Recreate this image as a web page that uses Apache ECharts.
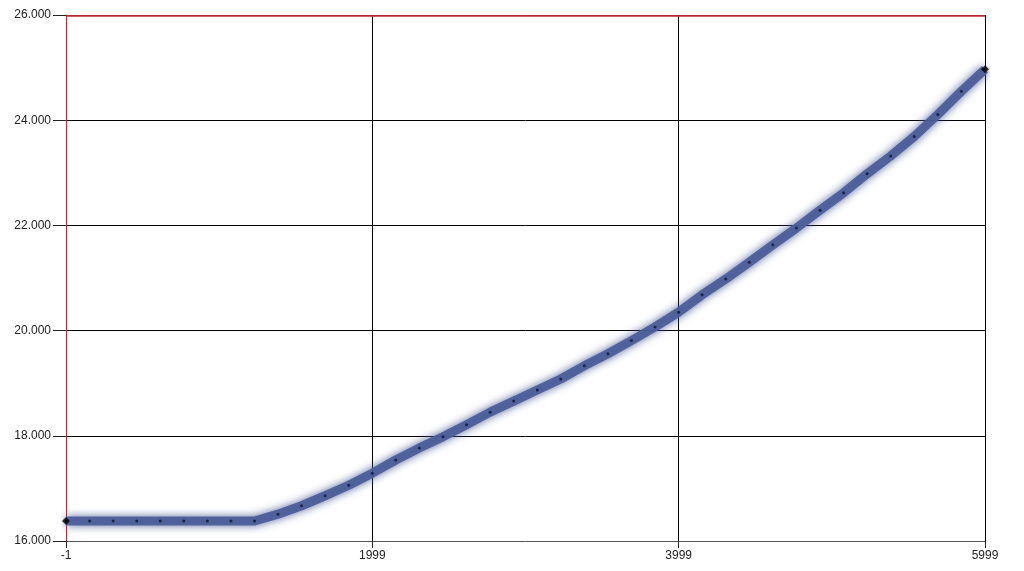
<!DOCTYPE html>
<html>
<head>
<meta charset="utf-8">
<script src="https://cdn.jsdelivr.net/npm/echarts@6/dist/echarts.min.js"></script>
<style>
html,body{margin:0;padding:0;background:#fff;}
#chart{width:1024px;height:571px;}
</style>
</head>
<body>
<div id="chart"></div>
<script>
const xValues = [-1, 153, 307, 461, 614, 768, 922, 1076, 1230, 1383, 1537, 1691, 1845, 1999,
  2152, 2306, 2460, 2614, 2768, 2922, 3076, 3229, 3383, 3537, 3691, 3845, 3999,
  4152, 4306, 4460, 4614, 4768, 4922, 5076, 5229, 5383, 5537, 5691, 5845, 5999];
const yValues = [16.38, 16.38, 16.38, 16.38, 16.38, 16.38, 16.38, 16.38, 16.38, 16.51,
  16.67, 16.86, 17.06, 17.29, 17.54, 17.77, 17.98, 18.21, 18.45, 18.66,
  18.87, 19.08, 19.33, 19.56, 19.81, 20.07, 20.35, 20.68, 20.98, 21.30,
  21.63, 21.95, 22.29, 22.62, 22.98, 23.32, 23.69, 24.11, 24.55, 24.97];
const xTickLabels = ['-1', '1999', '3999', '5999'];
const yTickLabels = ['16.000', '18.000', '20.000', '22.000', '24.000', '26.000'];
const yTop = 26;

const xOffset = 1; // shift so that axis ticks fall on multiples of the interval
const pts = xValues.map((x, i) => [x + xOffset, yValues[i]]);
const ends = [pts[0], pts[pts.length - 1]];

const font = 'Liberation Sans';
const chart = echarts.init(document.getElementById('chart'));
chart.setOption({
  animation: false,
  backgroundColor: '#ffffff',
  grid: { left: 66, right: 39, top: 15, bottom: 30 },
  xAxis: {
    type: 'value', min: 0, max: 6000, interval: 2000,
    axisLine: { show: true, lineStyle: { color: '#555555', width: 1 } },
    axisTick: { show: true, length: 7, lineStyle: { color: '#222222' } },
    axisLabel: {
      margin: 9, color: '#222222', fontFamily: font, fontSize: 12,
      formatter: v => xTickLabels[Math.round(v / 2000)]
    },
    splitLine: { show: true, showMinLine: false, lineStyle: { color: '#000000', width: 1 } }
  },
  yAxis: {
    type: 'value', min: 16, max: yTop, interval: 2,
    axisLine: { show: true, lineStyle: { color: '#b8282e', width: 1 } },
    axisTick: { show: true, length: 13, lineStyle: { color: '#222222' } },
    axisLabel: {
      margin: 15, color: '#222222', fontFamily: font, fontSize: 12,
      formatter: v => yTickLabels[Math.round((v - 16) / 2)]
    },
    splitLine: {
      show: true, showMinLine: false,
      lineStyle: { color: ['#000000', '#000000', '#000000', '#000000', '#b8282e'], width: 1 }
    }
  },
  series: [{
    type: 'line', data: pts, showSymbol: false, silent: true, z: 3, clip: false,
    lineStyle: { width: 9, color: 'rgba(74,92,152,0.92)', shadowColor: 'rgba(74,92,152,1)', shadowBlur: 8, join: 'round' },
    markLine: {
      silent: true, symbol: ['none', 'none'], label: { show: false }, z: 10,
      lineStyle: { color: '#b8282e', width: 1.5, type: 'solid', shadowBlur: 0, opacity: 1 },
      emphasis: { disabled: true },
      data: [{ yAxis: yTop - 0.01 }]
    }
  }, {
    type: 'line', data: pts, silent: true, z: 4,
    showAllSymbol: true, symbol: 'circle', symbolSize: 3,
    itemStyle: { color: '#1b2346' },
    lineStyle: { width: 0, opacity: 0 }
  }, {
    type: 'scatter', data: ends, silent: true, z: 5,
    symbol: 'diamond', symbolSize: 8, itemStyle: { color: '#000000' }
  }]
});
</script>
</body>
</html>
